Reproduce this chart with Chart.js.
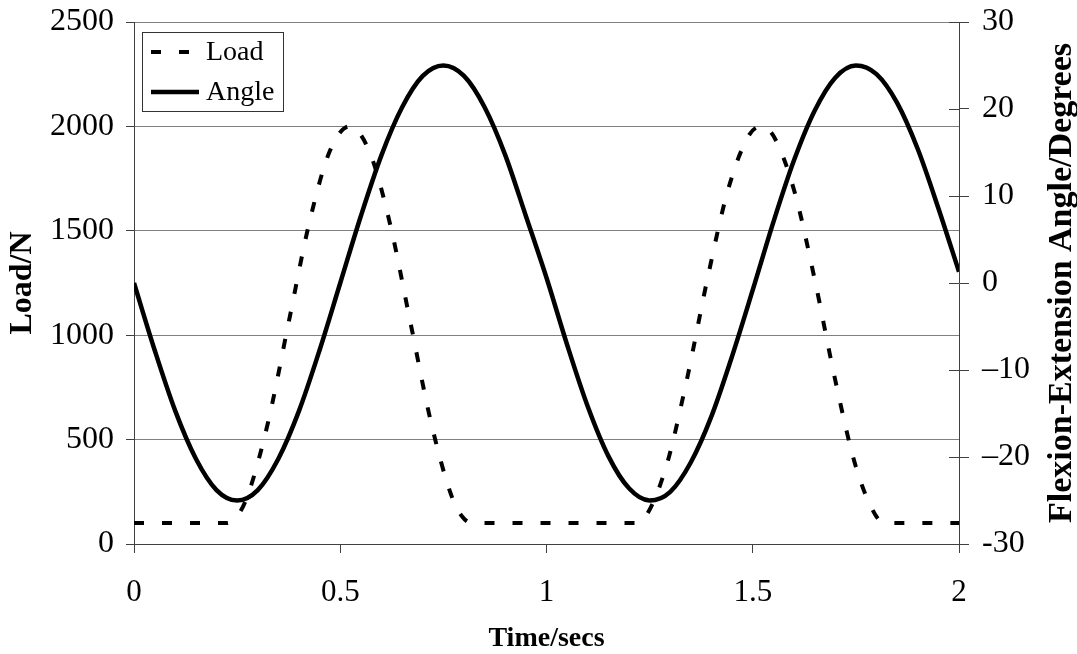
<!DOCTYPE html>
<html>
<head>
<meta charset="utf-8">
<script src="https://cdn.jsdelivr.net/npm/chart.js@4.4.1/dist/chart.umd.min.js"></script>
<style>
  html, body { margin: 0; padding: 0; background: #fff; }
  #wrap { width: 1077px; height: 654px; }
</style>
</head>
<body>
<div id="wrap"><canvas id="chart" width="1077" height="654"></canvas></div>
<script>
// time samples (secs) and values
const angleTimes = [0, 0.05, 0.1, 0.15, 0.2, 0.25, 0.3, 0.35, 0.4, 0.45, 0.5, 0.55, 0.6, 0.65, 0.7, 0.75, 0.8, 0.85, 0.9, 0.95,
  1.0, 1.05, 1.1, 1.15, 1.2, 1.25, 1.3, 1.35, 1.4, 1.45, 1.5, 1.55, 1.6, 1.65, 1.7, 1.75, 1.8, 1.85, 1.9, 1.95, 2.0];
const angleValues = [0, -7.7, -14.7, -20.2, -23.8, -25, -23.8, -20.2, -14.7, -7.7, 0, 7.7, 14.7, 20.2, 23.8, 25, 23.8, 20.2, 14.7, 7.7,
  0.6, -7.1, -14.2, -19.9, -23.6, -25, -24, -20.6, -15.3, -8.4, -0.8, 7.0, 14.1, 19.8, 23.6, 25, 24, 20.7, 15.4, 8.6, 1.3];

const loadTimes = [0, 0.225, 0.25, 0.275, 0.325, 0.375, 0.425, 0.475, 0.5225, 0.57, 0.62, 0.67, 0.72, 0.77, 0.795, 0.82,
  1.215, 1.24, 1.29, 1.34, 1.39, 1.44, 1.49, 1.52, 1.55, 1.6, 1.65, 1.7, 1.75, 1.8, 1.825, 2.0];
const loadValues = [100, 100, 133, 229, 583, 1062, 1539, 1883, 2000, 1883, 1539, 1062, 583, 229, 133, 100,
  100, 131, 370, 785, 1269, 1696, 1955, 2000, 1955, 1696, 1269, 785, 370, 131, 100, 100];

const timeTicks = [0, 0.5, 1, 1.5, 2];
const loadTicks = [0, 500, 1000, 1500, 2000, 2500];
const angleTicks = [-30, -20, -10, 0, 10, 20, 30];

const serif = '"Liberation Serif", "Times New Roman", serif';
const axisCol = '#404040';
const gridCol = '#808080';
const rightTitle = 'Flexion-Extension Angle/Degrees';

const toPoints = (xs, ys) => xs.map((x, i) => ({ x: x, y: ys[i] }));

// keep the plot box where the reference has it
const noPad = (s) => { s.paddingTop = 0; s.paddingBottom = 0; s.paddingLeft = 0; s.paddingRight = 0; };

// legend box inside the plot, inner half of the right axis ticks, right axis title
const extras = {
  id: 'extras',
  afterDraw(chart) {
    const ctx = chart.ctx;
    const area = chart.chartArea;
    const r = chart.scales.y1;
    ctx.save();
    ctx.strokeStyle = axisCol;
    ctx.lineWidth = 1;
    r.ticks.forEach((t) => {
      const y = Math.round(r.getPixelForValue(t.value)) + 0.5;
      ctx.beginPath();
      ctx.moveTo(area.right - 10, y);
      ctx.lineTo(area.right, y);
      ctx.stroke();
    });

    // right title reads bottom to top, like the left one
    ctx.save();
    ctx.translate(1062, (area.top + area.bottom) / 2);
    ctx.rotate(-Math.PI / 2);
    ctx.font = 'bold 34px ' + serif;
    ctx.fillStyle = '#000';
    ctx.textAlign = 'center';
    ctx.textBaseline = 'middle';
    ctx.fillText(rightTitle, 0, 0);
    ctx.restore();

    const bx = area.left + 8, by = area.top + 10, bw = 141, bh = 79;
    ctx.fillStyle = '#fff';
    ctx.fillRect(bx, by, bw, bh);
    ctx.strokeStyle = '#333';
    ctx.strokeRect(bx + 0.5, by + 0.5, bw, bh);

    ctx.font = '28px ' + serif;
    ctx.textBaseline = 'middle';
    chart.data.datasets.forEach((ds, i) => {
      const cy = by + 20 + i * 40;
      ctx.strokeStyle = ds.borderColor;
      ctx.lineWidth = ds.borderWidth;
      ctx.setLineDash(ds.borderDash || []);
      ctx.beginPath();
      ctx.moveTo(bx + 9, cy);
      ctx.lineTo(bx + 57, cy);
      ctx.stroke();
      ctx.setLineDash([]);
      ctx.fillStyle = '#000';
      ctx.fillText(ds.label, bx + 64, cy + 1);
    });
    ctx.restore();
  }
};

new Chart('chart', {
  type: 'line',
  data: {
    datasets: [
      {
        label: 'Load',
        data: toPoints(loadTimes, loadValues),
        yAxisID: 'y',
        borderColor: '#000',
        borderWidth: 4,
        borderDash: [10, 18],
        borderCapStyle: 'butt',
        pointRadius: 0,
        cubicInterpolationMode: 'monotone',
        fill: false,
      },
      {
        label: 'Angle',
        data: toPoints(angleTimes, angleValues),
        yAxisID: 'y1',
        borderColor: '#000',
        borderWidth: 4.5,
        pointRadius: 0,
        cubicInterpolationMode: 'monotone',
        fill: false,
      },
    ],
  },
  options: {
    responsive: false,
    animation: false,
    layout: { padding: { top: 22, left: 0, right: 0, bottom: 0 } },
    plugins: {
      legend: { display: false },
      tooltip: { enabled: false },
    },
    scales: {
      x: {
        type: 'linear',
        min: 0,
        max: 2,
        afterBuildTicks: (s) => { s.ticks = timeTicks.map((v) => ({ value: v })); },
        ticks: { font: { family: serif, size: 31 }, color: '#000', padding: 21, maxRotation: 0, callback: (v) => String(v) },
        grid: { drawOnChartArea: false, tickLength: 9, color: axisCol },
        border: { color: axisCol },
        title: { display: true, text: 'Time/secs', font: { family: serif, size: 28, weight: 'bold', lineHeight: 1.1 }, color: '#000', padding: { top: 7, bottom: 0 } },
        afterFit: (s) => { s.height = 110; noPad(s); },
      },
      y: {
        position: 'left',
        min: 0,
        max: 2500,
        afterBuildTicks: (s) => { s.ticks = loadTicks.map((v) => ({ value: v })); },
        ticks: { font: { family: serif, size: 32 }, color: '#000', padding: 12, callback: (v) => String(v) },
        grid: { color: gridCol, tickColor: axisCol, tickLength: 8 },
        border: { color: axisCol },
        title: { display: true, text: 'Load/N', font: { family: serif, size: 32, weight: 'bold' }, color: '#000', padding: { bottom: 0, top: 4 } },
        afterFit: (s) => { s.width = 134; noPad(s); },
      },
      y1: {
        position: 'right',
        min: -30,
        max: 30,
        afterBuildTicks: (s) => { s.ticks = angleTicks.map((v) => ({ value: v })); },
        ticks: {
          font: { family: serif, size: 32 },
          color: '#000',
          padding: 13,
          callback: (v) => (v === -30 ? '-30' : (v < 0 ? '\u2013' + Math.abs(v) : String(v))),
        },
        grid: { drawOnChartArea: false, tickLength: 10, color: axisCol },
        border: { color: axisCol },
        afterFit: (s) => { s.width = 118; noPad(s); },
      },
    },
  },
  plugins: [extras],
});
</script>
</body>
</html>
